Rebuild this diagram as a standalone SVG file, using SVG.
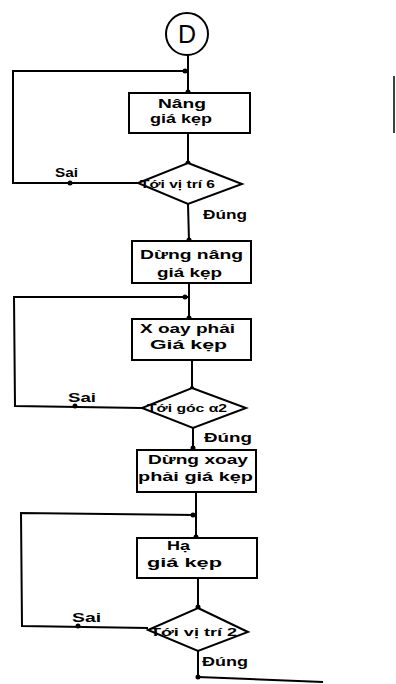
<svg xmlns="http://www.w3.org/2000/svg" width="396" height="684" viewBox="0 0 396 684">
<style>
.shape{fill:#fff;stroke:#000;stroke-width:2}
.ln{fill:none;stroke:#000;stroke-width:2}
.dot{fill:#000}
text{font-family:"Liberation Sans",Arial,sans-serif;font-weight:bold;fill:#000}
.t{font-size:13px}
.b{font-size:12px}
.d{font-size:10px}
</style>
<rect width="396" height="684" fill="#fff"/>
<g id="connectors">
<line class="ln" x1="188" y1="55" x2="188" y2="93"/>
<polyline class="ln" points="138,183 13,183 13,71 188,71"/>
<line class="ln" x1="188" y1="133" x2="188" y2="163"/>
<line class="ln" x1="188" y1="204" x2="189" y2="241"/>
<line class="ln" x1="189" y1="283" x2="189" y2="319"/>
<polyline class="ln" points="142,408 15,406 14,297 189,297"/>
<line class="ln" x1="192" y1="360" x2="192" y2="388"/>
<line class="ln" x1="193" y1="428" x2="193" y2="450"/>
<line class="ln" x1="196" y1="492" x2="196" y2="538"/>
<polyline class="ln" points="148,628 22,626 21,513 196,515"/>
<line class="ln" x1="198" y1="578" x2="198" y2="608"/>
<line class="ln" x1="198" y1="651" x2="198" y2="677"/>
<line class="ln" x1="198" y1="677" x2="323" y2="682"/>
<line x1="394" y1="76" x2="394" y2="133" stroke="#000" stroke-width="1.5"/>
<circle class="dot" cx="188" cy="92" r="2.5"/>
<circle class="dot" cx="185" cy="71" r="2.5"/>
<circle class="dot" cx="70" cy="183" r="2.5"/>
<circle class="dot" cx="188" cy="163" r="2.5"/>
<circle class="dot" cx="189" cy="240" r="2.5"/>
<circle class="dot" cx="189" cy="318" r="2.5"/>
<circle class="dot" cx="185" cy="297" r="2.5"/>
<circle class="dot" cx="75" cy="406" r="2.5"/>
<circle class="dot" cx="192" cy="388" r="2"/>
<circle class="dot" cx="193" cy="448" r="2.5"/>
<circle class="dot" cx="196" cy="537" r="2.5"/>
<circle class="dot" cx="193" cy="515" r="2.5"/>
<circle class="dot" cx="78" cy="626" r="2.5"/>
<circle class="dot" cx="198" cy="607" r="2.5"/>
<circle class="dot" cx="198" cy="677" r="2.5"/>
<text class="t" x="55" y="177" textLength="23" lengthAdjust="spacingAndGlyphs">Sai</text>
<text class="t" x="203" y="219" textLength="44" lengthAdjust="spacingAndGlyphs">Đúng</text>
<text class="t" x="68" y="402" textLength="28" lengthAdjust="spacingAndGlyphs">Sai</text>
<text class="t" x="204" y="442" textLength="48" lengthAdjust="spacingAndGlyphs">Đúng</text>
<text class="t" x="72" y="622" textLength="29" lengthAdjust="spacingAndGlyphs">Sai</text>
<text class="t" x="202" y="666" textLength="46" lengthAdjust="spacingAndGlyphs">Đúng</text>
</g>
<g id="start">
<circle class="shape" cx="187" cy="34" r="21"/>
<text x="187" y="43" font-size="25" text-anchor="middle" style="font-weight:normal">D</text>
</g>
<g id="box1">
<rect class="shape" x="129" y="93" width="121" height="40"/>
<text class="b" x="158" y="108" textLength="48" lengthAdjust="spacingAndGlyphs">Nâng</text>
<text class="b" x="150" y="123" textLength="62" lengthAdjust="spacingAndGlyphs">giá kẹp</text>
</g>
<g id="dec1">
<polygon class="shape" points="188,163 242,184 188,204 138,183"/>
<text class="d" x="140" y="188" textLength="75" lengthAdjust="spacingAndGlyphs">Tới vị trí 6</text>
</g>
<g id="box2">
<rect class="shape" x="132" y="241" width="119" height="42"/>
<text class="t" x="140" y="259" textLength="103" lengthAdjust="spacingAndGlyphs">Dừng nâng</text>
<text class="t" x="157" y="277" textLength="65" lengthAdjust="spacingAndGlyphs">giá kẹp</text>
</g>
<g id="box3">
<rect class="shape" x="132" y="319" width="119" height="41"/>
<text class="t" x="140" y="333" textLength="95" lengthAdjust="spacingAndGlyphs">X oay phải</text>
<text class="t" x="150" y="349" textLength="77" lengthAdjust="spacingAndGlyphs">Giá kẹp</text>
</g>
<g id="dec2">
<polygon class="shape" points="192,388 246,408 193,428 142,408"/>
<text class="d" x="147" y="412" textLength="80" lengthAdjust="spacingAndGlyphs">Tới góc α2</text>
</g>
<g id="box4">
<rect class="shape" x="137" y="450" width="119" height="42"/>
<text class="b" x="148" y="464" textLength="100" lengthAdjust="spacingAndGlyphs">Dừng xoay</text>
<text class="b" x="138" y="481" textLength="115" lengthAdjust="spacingAndGlyphs">phải giá kẹp</text>
</g>
<g id="box5">
<rect class="shape" x="137" y="538" width="120" height="40"/>
<text class="t" x="167" y="550" textLength="23" lengthAdjust="spacingAndGlyphs">Hạ</text>
<text class="t" x="147" y="567" textLength="75" lengthAdjust="spacingAndGlyphs">giá kẹp</text>
</g>
<g id="dec3">
<polygon class="shape" points="198,608 248,632 198,651 148,630"/>
<text class="d" x="150" y="636" textLength="87" lengthAdjust="spacingAndGlyphs">Tới vị trí 2</text>
</g>
</svg>
